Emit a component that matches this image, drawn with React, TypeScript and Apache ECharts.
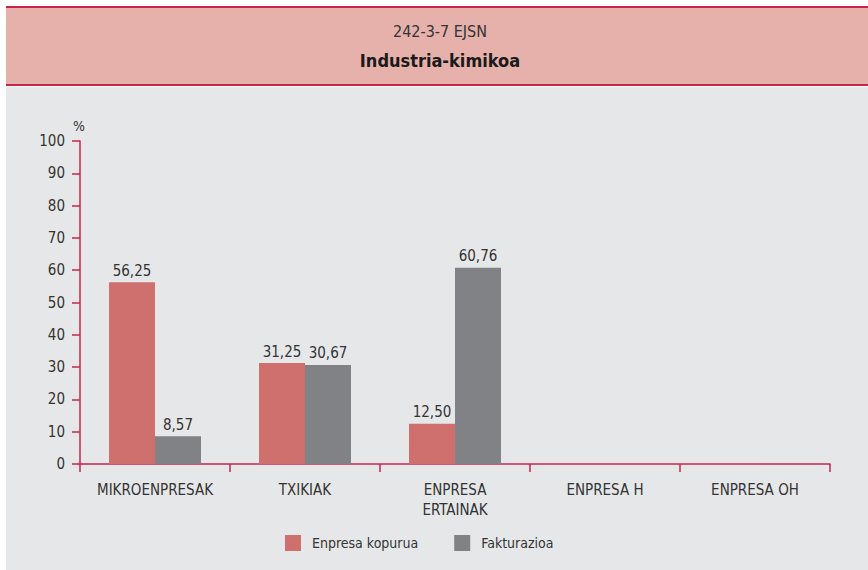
import React, { useEffect, useRef } from "react";
import * as echarts from "echarts";

const categories = ["MIKROENPRESAK", "TXIKIAK", "ENPRESA\nERTAINAK", "ENPRESA H", "ENPRESA OH"];
const enpresaKopurua = [56.25, 31.25, 12.5, null, null];
const fakturazioa = [8.57, 30.67, 60.76, null, null];
const seriesNames = ["Enpresa kopurua", "Fakturazioa"];
const yTicks = { min: 0, max: 100, interval: 10 };
const titleLine1 = "242-3-7 EJSN";
const titleLine2 = "Industria-kimikoa";

const FONT = "'Liberation Sans Narrow', 'DejaVu Sans Condensed', 'Open Sans', sans-serif";
const AXIS = "#C8234B";
const TEXT = "#333333";
const fmt = (v: number) => v.toFixed(2).replace(".", ",");

export default function App() {
  const ref = useRef<HTMLDivElement>(null);
  useEffect(() => {
    document.body.style.margin = "0";
    const chart = echarts.init(ref.current!, undefined, { renderer: "svg" });
    chart.setOption({
      animation: false,
      backgroundColor: "#ffffff",
      textStyle: { fontFamily: FONT },
      graphic: [
        { type: "rect", shape: { x: 6, y: 87, width: 862, height: 483 }, style: { fill: "#E6E7E9" }, z: -10 },
        { type: "rect", shape: { x: 6, y: 6, width: 862, height: 80 }, style: { fill: "#E5B1AA" }, z: -10 },
        { type: "rect", shape: { x: 6, y: 6, width: 862, height: 2 }, style: { fill: AXIS }, z: -9 },
        { type: "rect", shape: { x: 6, y: 84, width: 862, height: 2 }, style: { fill: AXIS }, z: -9 },
        { type: "text", x: 440, y: 31, style: { text: titleLine1, fill: TEXT, font: `16px ${FONT}`, align: "center", verticalAlign: "middle" } },
        { type: "text", x: 440, y: 60, style: { text: titleLine2, fill: "#1a1a1a", font: `bold 18px ${FONT}`, align: "center", verticalAlign: "middle" } },
        { type: "text", x: 79, y: 126, style: { text: "%", fill: TEXT, font: `14px ${FONT}`, align: "center", verticalAlign: "middle" } },
      ],
      legend: {
        left: 285,
        top: 535,
        padding: 0,
        itemWidth: 16,
        itemHeight: 16,
        itemGap: 36,
        icon: "rect",
        textStyle: { fontFamily: FONT, fontSize: 14, color: TEXT, padding: [0, 0, 0, 6] },
        data: seriesNames,
      },
      grid: { left: 80, right: 38, top: 141, bottom: 106, containLabel: false },
      xAxis: {
        type: "category",
        data: categories,
        axisLine: { lineStyle: { color: AXIS, width: 1.5 } },
        axisTick: { show: true, length: 8, lineStyle: { color: AXIS, width: 1.5 } },
        axisLabel: { color: TEXT, fontFamily: FONT, fontSize: 15, margin: 16, lineHeight: 20, interval: 0 },
      },
      yAxis: {
        type: "value",
        min: yTicks.min,
        max: yTicks.max,
        interval: yTicks.interval,
        axisLine: { show: true, lineStyle: { color: AXIS, width: 1.5 } },
        axisTick: { show: true, length: 8, lineStyle: { color: AXIS, width: 1.5 } },
        splitLine: { show: false },
        axisLabel: { color: TEXT, fontFamily: FONT, fontSize: 15, margin: 15 },
      },
      series: [
        {
          name: seriesNames[0],
          type: "bar",
          data: enpresaKopurua,
          barWidth: 46,
          barGap: "0%",
          itemStyle: { color: "#CF6F6E" },
          label: { show: true, position: "top", color: TEXT, fontFamily: FONT, fontSize: 15, distance: 4, formatter: (p: any) => fmt(p.value) },
        },
        {
          name: seriesNames[1],
          type: "bar",
          data: fakturazioa,
          barWidth: 46,
          barGap: "0%",
          itemStyle: { color: "#818285" },
          label: { show: true, position: "top", color: TEXT, fontFamily: FONT, fontSize: 15, distance: 4, formatter: (p: any) => fmt(p.value) },
        },
      ],
    });
    return () => chart.dispose();
  }, []);
  return <div ref={ref} style={{ position: "absolute", left: 0, top: 0, width: 868, height: 570 }} />;
}
